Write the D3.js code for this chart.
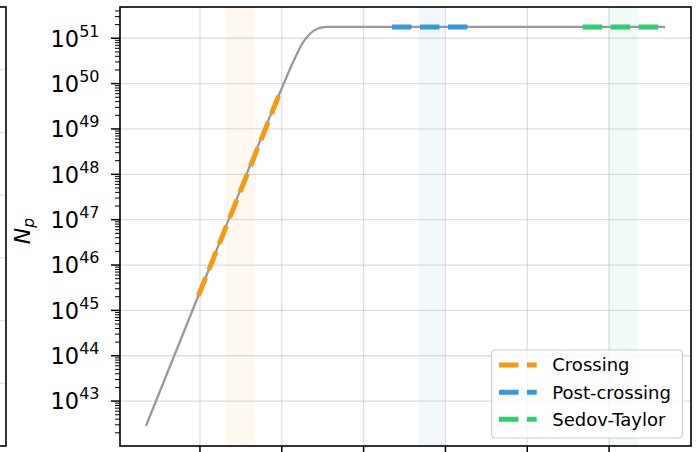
<!DOCTYPE html>
<html><head><meta charset="utf-8">
<script src="https://cdn.jsdelivr.net/npm/d3@7"></script>
<style>html,body{margin:0;padding:0;background:#fff;} svg{display:block;font-family:"DejaVu Sans",sans-serif;}</style>
</head><body>
<svg id="chart" width="700" height="452"></svg>
<script>
// ---- data ----
const timeX = [0.34, 1.0, 1.995, 2.136, 2.258, 2.340, 2.441, 2.543, 6.684];
const logNp = [42.45, 45.41, 49.876, 50.465, 50.905, 51.088, 51.214, 51.249, 51.249];
const phaseNames = ["Crossing", "Post-crossing", "Sedov-Taylor"];
const phaseColors = ["#f39c12", "#3498db", "#2ecc71"];
const phaseSegX = [[0.98, 1.98], [3.347, 4.277], [5.677, 6.615]];
const phaseSegLogN = [[45.32, 49.81], [51.249, 51.249], [51.249, 51.249]];
const phaseBands = [[1.317, 1.670], [3.667, 3.996], [5.994, 6.351]];
const xTickValues = [1, 2, 3, 4, 5, 6];
const yTickExponents = [43, 44, 45, 46, 47, 48, 49, 50, 51];
const leftPanelGrid = [1, 2, 3, 4, 5, 6];

const svg = d3.select("#chart");
const L = 120, R = 691, T = 7, B = 446;

const xmin = d3.min(timeX), xmax = d3.max(timeX), xs = xmax - xmin;
const x = d3.scaleLinear().domain([xmin - 0.05 * xs, xmax + 0.05 * xs]).range([L, R]);
const lmin = d3.min(logNp), lmax = d3.max(logNp), ls = lmax - lmin;
const y = d3.scaleLog().domain([Math.pow(10, lmin - 0.05 * ls), Math.pow(10, lmax + 0.05 * ls)]).range([B, T]);
const P = e => Math.pow(10, e);

// ---- left (cut-off) neighbouring panel ----
const yl = d3.scaleLinear().domain([0, 7]).range([B, T]);
const lp = svg.append("g");
lp.selectAll("line.g").data(leftPanelGrid).enter().append("line")
  .attr("x1", -10).attr("x2", 6).attr("y1", d => yl(d)).attr("y2", d => yl(d))
  .attr("stroke", "#e0e0e0").attr("stroke-width", 1.2);
lp.append("rect").attr("x", -20).attr("y", T).attr("width", 26).attr("height", B - T)
  .attr("fill", "none").attr("stroke", "#000").attr("stroke-width", 1.6);

// ---- bands ----
const g = svg.append("g");
g.selectAll("rect.band").data(phaseBands).enter().append("rect")
  .attr("x", d => x(d[0])).attr("width", d => x(d[1]) - x(d[0]))
  .attr("y", T).attr("height", B - T)
  .attr("fill", (d, i) => phaseColors[i]).attr("fill-opacity", 0.07);

// ---- grid ----
g.selectAll("line.vg").data(xTickValues).enter().append("line")
  .attr("x1", d => x(d)).attr("x2", d => x(d)).attr("y1", T).attr("y2", B)
  .attr("stroke", "#b0b0b0").attr("stroke-opacity", 0.4).attr("stroke-width", 1.3);
g.selectAll("line.hg").data(yTickExponents).enter().append("line")
  .attr("x1", L).attr("x2", R).attr("y1", d => y(P(d))).attr("y2", d => y(P(d)))
  .attr("stroke", "#b0b0b0").attr("stroke-opacity", 0.4).attr("stroke-width", 1.3);

// ---- main curve ----
const pts = timeX.map((t, i) => [t, logNp[i]]);
const line = d3.line().x(d => x(d[0])).y(d => y(P(d[1]))).curve(d3.curveMonotoneX);
g.append("path").datum(pts).attr("d", line).attr("fill", "none")
  .attr("stroke", "#999999").attr("stroke-width", 2.3).attr("stroke-linejoin", "round");

// ---- phase segments ----
const segLine = d3.line().x(d => x(d[0])).y(d => y(P(d[1])));
phaseSegX.forEach((sx, i) => {
  const seg = sx.map((t, j) => [t, phaseSegLogN[i][j]]);
  g.append("path").datum(seg).attr("d", segLine).attr("fill", "none")
    .attr("stroke", phaseColors[i]).attr("stroke-width", 5)
    .attr("stroke-dasharray", "19.5 8.5").attr("stroke-linecap", "butt");
});

// ---- axes ----
const ax = svg.append("g");
ax.selectAll("line.xt").data(xTickValues).enter().append("line")
  .attr("x1", d => x(d)).attr("x2", d => x(d)).attr("y1", B).attr("y2", B + 9)
  .attr("stroke", "#000").attr("stroke-width", 1.5);
const minors = [];
for (let e = Math.floor(lmin - 1); e <= Math.ceil(lmax + 1); e++) {
  for (let k = 2; k <= 9; k++) {
    const v = k * P(e);
    if (v >= y.domain()[0] && v <= y.domain()[1]) minors.push(v);
  }
}
ax.selectAll("line.ymin").data(minors).enter().append("line")
  .attr("x1", L - 5).attr("x2", L).attr("y1", d => y(d)).attr("y2", d => y(d))
  .attr("stroke", "#000").attr("stroke-width", 1);
ax.selectAll("line.ymaj").data(yTickExponents).enter().append("line")
  .attr("x1", L - 9).attr("x2", L).attr("y1", d => y(P(d))).attr("y2", d => y(P(d)))
  .attr("stroke", "#000").attr("stroke-width", 1.5);
const lab = ax.selectAll("text.yl").data(yTickExponents).enter().append("text")
  .attr("x", 99.5).attr("y", d => y(P(d)) + 8.3).attr("text-anchor", "end").attr("fill", "#000");
lab.append("tspan").attr("font-size", 22.5).text("10");
lab.append("tspan").attr("font-size", 16).attr("dy", -10).text(d => d);

// spines
svg.append("rect").attr("x", L).attr("y", T).attr("width", R - L).attr("height", B - T)
  .attr("fill", "none").attr("stroke", "#000").attr("stroke-width", 1.6);

// y label
const yLab = svg.append("text").attr("transform", "translate(30,231) rotate(-90)")
  .attr("text-anchor", "middle").attr("fill", "#000");
yLab.append("tspan").attr("font-size", 22).attr("font-style", "italic").text("N");
yLab.append("tspan").attr("font-size", 15.5).attr("font-style", "italic").attr("dy", 4).text("p");

// ---- legend ----
const lg = svg.append("g");
lg.append("rect").attr("x", 491.5).attr("y", 350).attr("width", 191).attr("height", 88).attr("rx", 4)
  .attr("fill", "#fff").attr("fill-opacity", 0.8).attr("stroke", "#cccccc").attr("stroke-width", 1.2);
const rows = [365, 392.3, 419.3];
phaseNames.forEach((n, i) => {
  lg.append("line").attr("x1", 499).attr("x2", 536.7).attr("y1", rows[i]).attr("y2", rows[i])
    .attr("stroke", phaseColors[i]).attr("stroke-width", 5).attr("stroke-dasharray", "19.5 8.5");
  lg.append("text").attr("x", 552.3).attr("y", rows[i]).attr("dy", "0.36em")
    .attr("font-size", 18).attr("fill", "#000").text(n);
});
</script>
</body></html>
